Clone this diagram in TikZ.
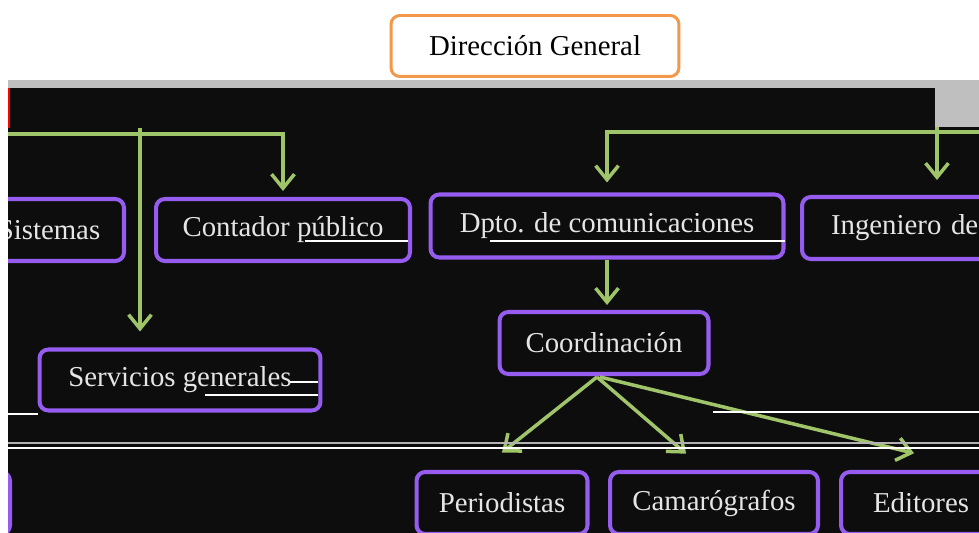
\documentclass[tikz,border=0pt]{standalone}
\usepackage{fontspec}
\setmainfont{Liberation Serif}
\usetikzlibrary{arrows.meta}
\definecolor{morado}{RGB}{150,92,240}
\definecolor{verde}{RGB}{160,196,106}
\definecolor{naranja}{RGB}{242,152,72}
\definecolor{fondo}{RGB}{13,13,13}

\begin{document}
\begin{tikzpicture}[x=0.02cm, y=-0.02cm,
  jefe/.style={draw=naranja, line width=1.7pt, rounded corners=5pt, fill=white,
    minimum width=5.76cm, minimum height=1.22cm, font=\fontsize{16.4}{19}\selectfont},
  caja/.style={draw=morado, line width=2.3pt, rounded corners=5pt, fill=fondo, text=gray!20,
    inner sep=0pt, minimum height=1.24cm, font=\fontsize{16.4}{19}\selectfont},
  flecha/.style={draw=verde, line width=2pt, -{Straight Barb[length=8pt,width=13pt]}},
  raya/.style={white, line width=0.8pt}]
\useasboundingbox (0,0) rectangle (979,533);
\fill[white] (0,0) rectangle (979,533);
\fill[gray!50] (8,80) rectangle (979,88);
\fill[gray!50] (935,88) rectangle (979,127);
\fill[fondo] (8,88) rectangle (935,533);
\fill[fondo] (935,127) rectangle (979,533);
\draw[red, line width=0.8pt] (9,88) -- (9,128);

\node[jefe] (DG) at (535,46) {Dirección General};

\begin{scope}
\clip (8,88) rectangle (979,533);
\node[caja, minimum width=3.0cm] (SIS) at (49,230) {Sistemas};
\node[caja, minimum width=5.08cm] (CON) at (283,230) {Contador público};
\node[caja, minimum width=7.06cm, minimum height=1.26cm] (DPTO) at (607,226) {Dpto. de comunicaciones};
\node[caja, anchor=west, text width=5.4cm, inner xsep=0.58cm, align=left] (ING) at (800,228) {Ingeniero de};
\node[caja, minimum width=5.62cm, minimum height=1.22cm] (SG) at (180,380) {Servicios generales};
\node[caja, minimum width=4.18cm] (COO) at (604,343) {Coordinación};
\node[caja, minimum width=3.2cm] (X) at (-70,503) {};
\node[caja, minimum width=3.42cm] (PER) at (502,503) {Periodistas};
\node[caja, minimum width=4.16cm] (CAM) at (714,503) {Camarógrafos};
\node[caja, minimum width=3.2cm] (EDI) at (921,503) {Editores};

\coordinate (izq) at (8,134);
\coordinate (r1) at (140,128);
\coordinate (der) at (979,132);
\coordinate (r2) at (937,127);
\coordinate (c0) at (597,377);

% lineas de arriba
\draw[flecha, shorten >=0.12cm] (izq) -| (CON.north);
\draw[flecha, shorten >=0.32cm] (r1) -- (r1 |- SG.north);
\draw[flecha, shorten >=0.2cm] (der) -| (DPTO.north);
\draw[flecha, shorten >=0.3cm] (r2) -- (r2 |- ING.north);
\draw[flecha, shorten >=0.1cm] (DPTO.south) -- (DPTO.south |- COO.north);

% coordinacion
\draw[flecha, shorten >=0.56cm] (c0) -- ([xshift=-0.44cm]PER.north);
\draw[flecha, shorten >=0.5cm] (c0) -- ([xshift=-0.18cm]CAM.north);
\draw[flecha, shorten >=1.42cm] ([xshift=0.06cm]c0) -- ([xshift=1.24cm]EDI.north);

% rayas sueltas
\draw[raya] (305,241) -- (408,241);
\draw[raya] (490,241) -- (785,241);
\draw[raya] (290,382) -- (318,382);
\draw[raya] (205,395) -- (318,395);
\draw[raya] (8,414) -- (38,414);
\draw[raya] (713,412) -- (979,412);
\draw[gray!60, line width=0.8pt] (8,443) -- (979,443);
\draw[raya] (8,448) -- (979,448);
\end{scope}
\end{tikzpicture}
\end{document}
